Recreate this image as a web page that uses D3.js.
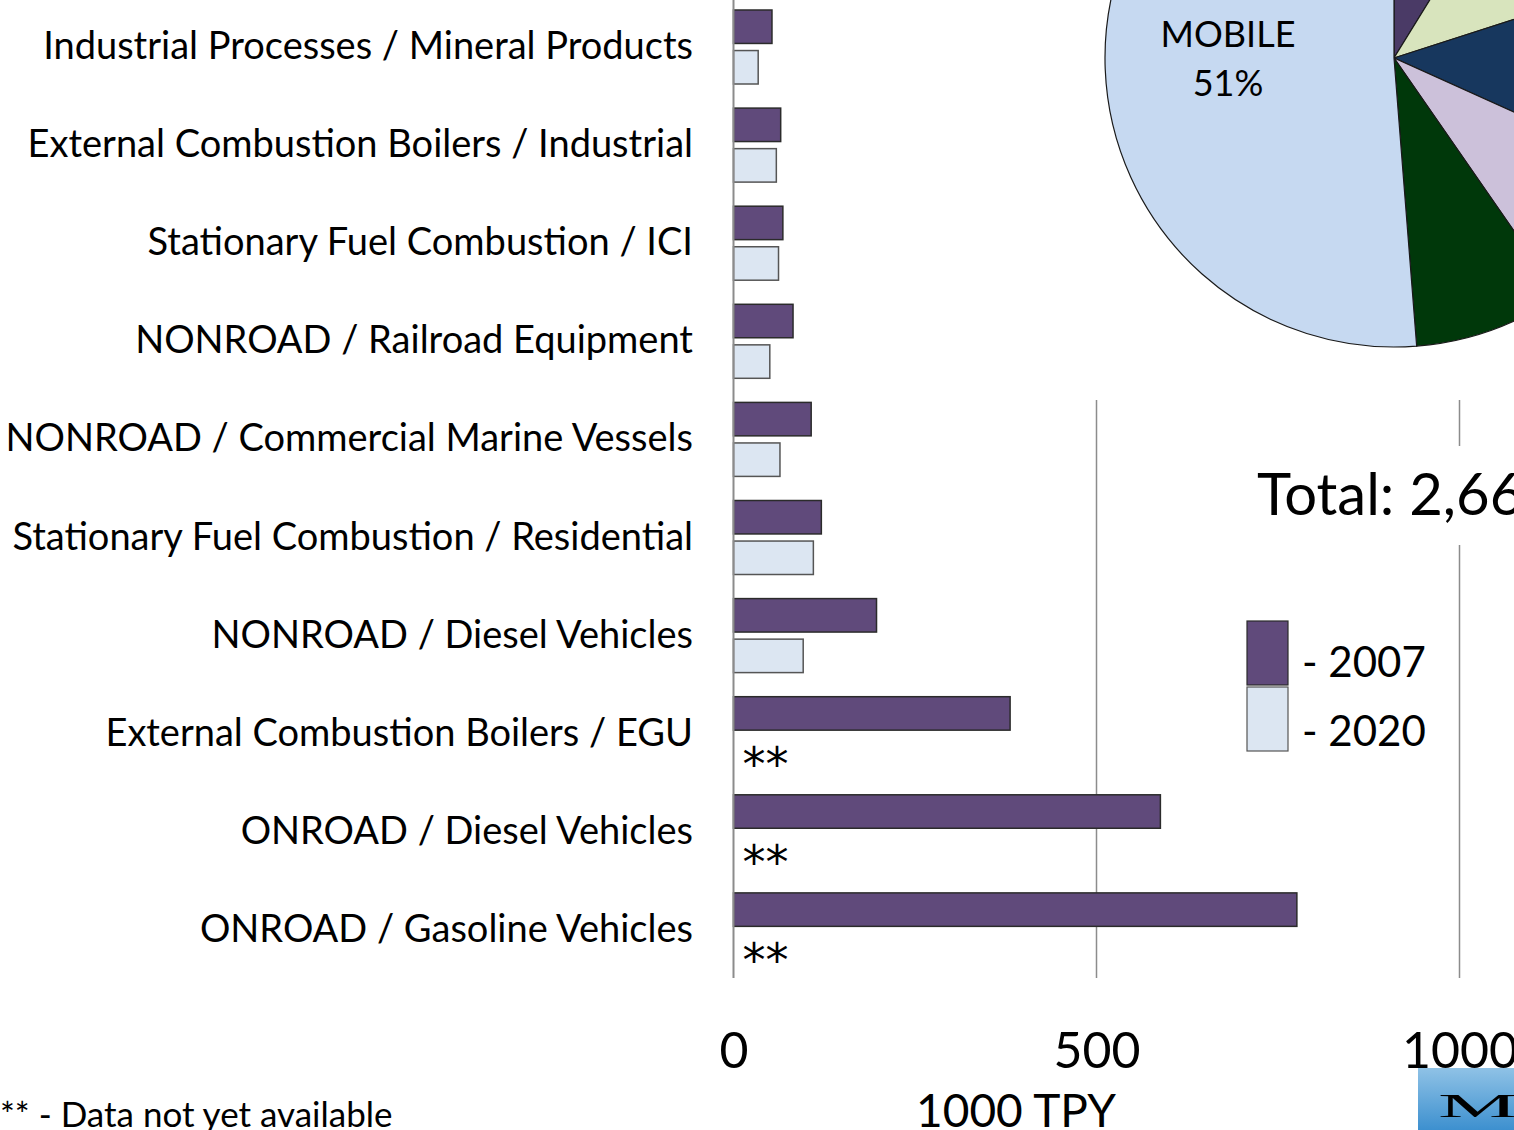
<!DOCTYPE html>
<html>
<head>
<meta charset="utf-8">
<script src="https://cdn.jsdelivr.net/npm/d3@7"></script>
<style>
html,body{margin:0;padding:0;background:#fff;overflow:hidden;}
svg{display:block;}
text{font-family:Lato,"Open Sans",sans-serif;fill:#000;}
</style>
</head>
<body>
<svg id="chart" width="1514" height="1130"></svg>
<script>
// ---- data ----
const categories = [
  "Industrial Processes / Mineral Products",
  "External Combustion Boilers / Industrial",
  "Stationary Fuel Combustion / ICI",
  "NONROAD / Railroad Equipment",
  "NONROAD / Commercial Marine Vessels",
  "Stationary Fuel Combustion / Residential",
  "NONROAD / Diesel Vehicles",
  "External Combustion Boilers / EGU",
  "ONROAD / Diesel Vehicles",
  "ONROAD / Gasoline Vehicles"
];
const series = ["2007", "2020"];
const values2007 = [53, 65, 68, 82, 107, 121, 197, 381, 588, 776];
const values2020 = [34, 59, 62, 50, 64, 110, 96, null, null, null];
const xTicks = [0, 500, 1000];
const xTitle = "1000 TPY";
const footnote = "** - Data not yet available";
const missingMark = "**";

const pieNames = ["S1", "S2", "S3", "S4", "S5", "MOBILE"];
const pieValues = [8.8, 11.25, 11.7, 8.6, 8.4, 51.25];
const pieLabel = ["MOBILE", "51%"];
const totalText = "Total: 2,66";

// ---- styles ----
const colors = {"2007": "#604a7b", "2020": "#dce6f2"};
const strokes = {"2007": "#2b2b2b", "2020": "#555555"};
const pieColors = ["#4a3a66", "#d8e4bd", "#17375e", "#ccc1da", "#00380a", "#c6d9f1"];

const svg = d3.select("#chart");

const x = d3.scaleLinear().domain([0, 1000]).range([733.5, 1459.5]);
const y = d3.scaleBand().domain(categories).range([-2, 979]).paddingInner(0).paddingOuter(0);
const ySub = d3.scaleBand().domain(series).range([12, 86]).paddingInner(0.175);

// gridlines
svg.append("g").selectAll("line").data(xTicks.filter(d => d > 0)).join("line")
  .attr("x1", d => x(d)).attr("x2", d => x(d))
  .attr("y1", 0).attr("y2", 978)
  .attr("stroke", "#8c8c8c").attr("stroke-width", 1.5);

// pie background (covers gridlines)
svg.append("rect").attr("x", 1085).attr("y", 0).attr("width", 429).attr("height", 400).attr("fill", "#fff");
// total background
svg.append("rect").attr("x", 1250).attr("y", 446).attr("width", 264).attr("height", 99).attr("fill", "#fff");

// bars
const rows = categories.map((c, i) => ({cat: c, v: {"2007": values2007[i], "2020": values2020[i]}}));
const groups = svg.append("g").selectAll("g").data(rows).join("g")
  .attr("transform", d => `translate(0,${y(d.cat)})`);

groups.selectAll("rect").data(d => series.filter(s => d.v[s] != null).map(s => ({s, v: d.v[s]})))
  .join("rect")
  .attr("x", x(0))
  .attr("y", d => ySub(d.s))
  .attr("width", d => x(d.v) - x(0))
  .attr("height", ySub.bandwidth())
  .attr("fill", d => colors[d.s])
  .attr("stroke", d => strokes[d.s])
  .attr("stroke-width", 1.5);

groups.filter(d => d.v["2020"] == null).append("text")
  .attr("x", x(0) + 9)
  .attr("y", ySub("2020") + ySub.bandwidth() / 2 + 26)
  .attr("font-size", 46)
  .attr("letter-spacing", 0)
  .style("font-family", "'DejaVu Sans'")
  .text(missingMark);

// category labels
svg.append("g").selectAll("text").data(categories).join("text")
  .attr("x", 693)
  .attr("y", d => y(d) + y.bandwidth() / 2 + 12)
  .attr("text-anchor", "end")
  .attr("font-size", 38)
  .text(d => d);

// y axis line
svg.append("line").attr("x1", x(0)).attr("x2", x(0)).attr("y1", 0).attr("y2", 978)
  .attr("stroke", "#8c8c8c").attr("stroke-width", 2);

// x axis labels
const xAxis = d3.axisBottom(x).tickValues(xTicks).tickSize(0).tickPadding(0).tickFormat(d3.format("d"));
const gx = svg.append("g").attr("transform", "translate(0,1068)").call(xAxis);
gx.select(".domain").remove();
gx.selectAll("text").attr("font-size", 50).attr("dy", 0).attr("y", 0)
  .style("font-family", "Lato, 'Open Sans', sans-serif").attr("fill", "#000");

svg.append("text").attr("x", 1016).attr("y", 1127).attr("text-anchor", "middle")
  .attr("font-size", 46).text(xTitle);

// footnote
svg.append("text").attr("x", 0).attr("y", 1127).attr("font-size", 35).text(footnote);

// pie
const pie = d3.pie().sort(null).value(d => d)(pieValues);
const arc = d3.arc().innerRadius(0).outerRadius(289);
const pg = svg.append("g").attr("transform", "translate(1394,58)");
pg.selectAll("path").data(pie).join("path")
  .attr("d", arc)
  .attr("fill", (d, i) => pieColors[i])
  .attr("stroke", "#1a1a1a").attr("stroke-width", 1.2);

svg.append("text").attr("x", 1228).attr("y", 47).attr("text-anchor", "middle")
  .attr("font-size", 36).attr("fill", "#1a1a1a").text(pieLabel[0]);
svg.append("text").attr("x", 1228).attr("y", 96).attr("text-anchor", "middle")
  .attr("font-size", 36).attr("fill", "#1a1a1a").text(pieLabel[1]);

// total
svg.append("text").attr("x", 1257).attr("y", 515).attr("font-size", 58).text(totalText);

// legend
const lg = svg.append("g");
series.forEach((s, i) => {
  lg.append("rect").attr("x", 1247).attr("y", 621 + i * 66).attr("width", 41).attr("height", 64)
    .attr("fill", colors[s]).attr("stroke", strokes[s]).attr("stroke-width", 1.2);
  lg.append("text").attr("x", 1302).attr("y", 677 + i * 69).attr("font-size", 42).text("- " + s);
});

// logo fragment
const defs = svg.append("defs");
const grad = defs.append("linearGradient").attr("id", "lg").attr("x1", 0).attr("y1", 0).attr("x2", 0).attr("y2", 1);
grad.append("stop").attr("offset", "0%").attr("stop-color", "#8fc2e6");
grad.append("stop").attr("offset", "100%").attr("stop-color", "#3d90cf");
svg.append("rect").attr("x", 1418).attr("y", 1068).attr("width", 96).attr("height", 62).attr("fill", "url(#lg)");
svg.append("text").attr("x", 1438).attr("y", 1117).attr("font-size", 34)
  .attr("textLength", 80).attr("lengthAdjust", "spacingAndGlyphs")
  .style("font-family", "'Liberation Serif', serif").attr("fill", "#fff").text("M");
</script>
</body>
</html>
